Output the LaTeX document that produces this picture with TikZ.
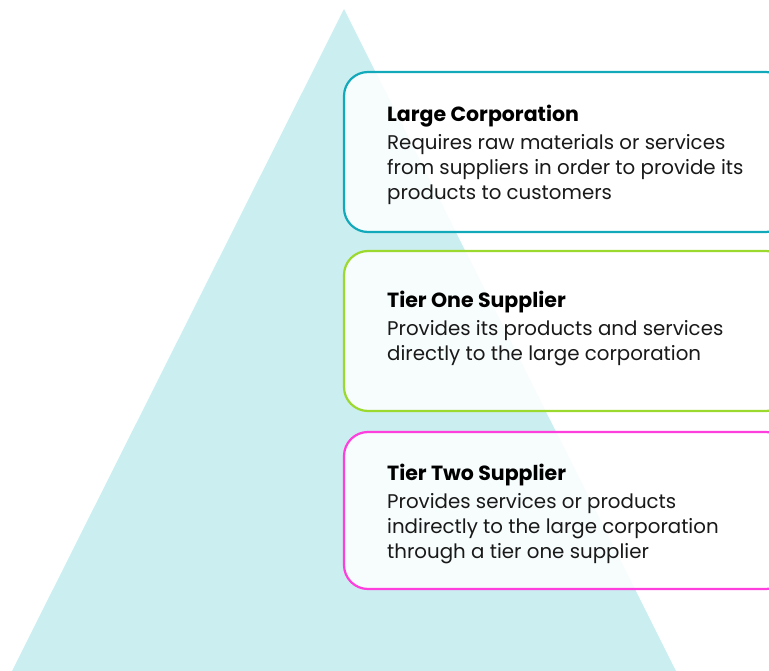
\documentclass[tikz,border=0pt]{standalone}
\usepackage{fontspec}
\setmainfont{Poppins}
\definecolor{pyramid}{HTML}{CBEEF0}
\definecolor{tealedge}{HTML}{12A9BB}
\definecolor{limeedge}{HTML}{9CD92E}
\definecolor{pinkedge}{HTML}{FF3FDD}
\begin{document}
\begin{tikzpicture}[x=1pt,y=-1pt,
  tierbox/.style={draw, line width=2.2pt, rounded corners=24pt, fill=white, fill opacity=0.85},
  headline/.style={anchor=base west, inner sep=0pt, font=\fontsize{20.5}{24}\selectfont\bfseries, text=black},
  bodyline/.style={anchor=base west, inner sep=0pt, font=\fontsize{19.8}{24}\selectfont, text=black!90}]
  \useasboundingbox (0,0) rectangle (769,671);
  \begin{scope}
    \clip (0,0) rectangle (769,671);
    % pyramid
    \fill[pyramid] (344,9) -- (12,671) -- (676,671) -- cycle;
    % tier boxes
    \draw[tierbox, draw=tealedge] (344,72) rectangle (790,232);
    \draw[tierbox, draw=limeedge] (344,251) rectangle (790,411);
    \draw[tierbox, draw=pinkedge] (344,432) rectangle (790,589);
  \end{scope}
  % Large Corporation
  \node[headline] (t1) at (387,122) {Large Corporation};
  \node[bodyline] (b1a) at (387,150) {Requires raw materials or services};
  \node[bodyline] (b1b) at (387,175) {from suppliers in order to provide its};
  \node[bodyline] (b1c) at (387,200) {products to customers};
  % Tier One Supplier
  \node[headline] (t2) at (387,308) {Tier One Supplier};
  \node[bodyline] (b2a) at (387,335) {Provides its products and services};
  \node[bodyline] (b2b) at (387,360) {directly to the large corporation};
  % Tier Two Supplier
  \node[headline] (t3) at (387,480) {Tier Two Supplier};
  \node[bodyline] (b3a) at (387,508) {Provides services or products};
  \node[bodyline] (b3b) at (387,533) {indirectly to the large corporation};
  \node[bodyline] (b3c) at (387,558) {through a tier one supplier};
\end{tikzpicture}
\end{document}
